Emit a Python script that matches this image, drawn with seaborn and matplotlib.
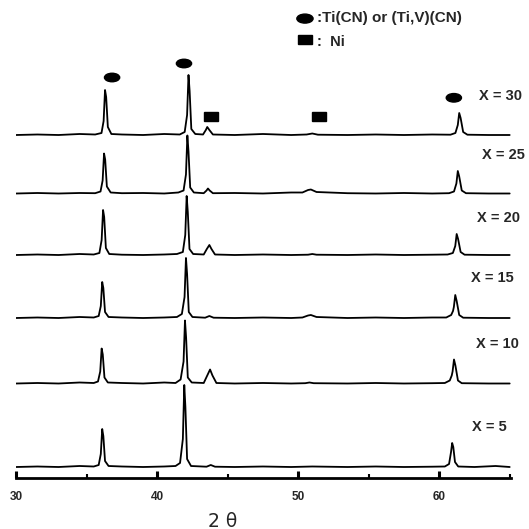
import pandas as pd
import matplotlib
matplotlib.use("Agg")
import matplotlib.pyplot as plt
from matplotlib.patches import Ellipse, Rectangle
import seaborn as sns

# =============
# 1. DATOS (leidos del difractograma)
# =============
muestras = ['X = 30', 'X = 25', 'X = 20', 'X = 15', 'X = 10', 'X = 5']

tt_x30 = [30.0, 31.5, 33.0, 34.5, 35.6, 36.05, 36.2, 36.3, 36.38, 36.5, 36.75, 37.5, 39.0, 40.5, 41.6,
          41.95, 42.12, 42.22, 42.3, 42.42, 42.7, 43.25, 43.45, 43.55, 43.7, 43.95, 45.5, 47.5, 49.5,
          50.6, 51.0, 51.4, 53.5, 55.5, 57.5, 59.5, 60.8, 61.15, 61.32, 61.42, 61.52, 61.7, 62.0, 63.5, 65.0]
i_x30 = [0, 0.5, 0, 1, 0.5, 2, 14, 45, 38, 8, 1, 0.5, 0, 1, 0.5,
         3, 20, 60, 44, 6, 1, 0.5, 5, 8, 5, 0.5, 0, 1, 0,
         0.5, 1.5, 0.3, 0, 0.5, 0, 0.5, 0.3, 2, 10, 22, 17, 3, 0.3, 0, 0]

tt_x25 = [30.0, 31.5, 33.0, 34.5, 35.6, 35.98, 36.13, 36.23, 36.31, 36.43, 36.7, 37.5, 39.0, 40.5, 41.5,
          41.87, 42.04, 42.14, 42.22, 42.34, 42.6, 43.3, 43.5, 43.6, 43.72, 43.95, 45.5, 47.5, 49.5,
          50.3, 50.7, 50.9, 51.3, 53.5, 55.5, 57.5, 59.5, 60.7, 61.05, 61.22, 61.32, 61.42, 61.6, 61.9, 63.5, 65.0]
i_x25 = [0, 0.5, 0, 0.5, 0.3, 2, 13, 40, 34, 7, 1, 0.3, 0.5, 0, 1,
         3, 19, 58, 42, 6, 1, 0.3, 3, 5, 3, 0.3, 0.5, 0, 1,
         1, 3.5, 4, 1.5, 0.3, 0, 0.5, 0, 0.3, 2, 10, 22.5, 17, 3, 0.3, 0, 0]

tt_x20 = [30.0, 31.5, 33.0, 34.5, 35.5, 35.9, 36.06, 36.16, 36.24, 36.36, 36.6, 37.5, 39.0, 40.5, 41.4,
          41.82, 41.99, 42.09, 42.17, 42.29, 42.55, 43.3, 43.52, 43.7, 43.85, 44.1, 45.5, 47.5, 49.5,
          50.7, 51.0, 51.3, 53.5, 55.5, 57.5, 59.5, 60.6, 60.97, 61.14, 61.24, 61.34, 61.52, 61.8, 63.5, 65.0]
i_x20 = [0, 0.5, 0, 1, 0.5, 2, 15, 45, 38, 7, 1, 0.3, 0, 0.5, 1,
         3, 20, 59, 43, 6, 1, 0.5, 6, 10, 6, 0.5, 0, 0.5, 0,
         0.3, 1, 0.3, 0, 0.5, 0, 0.3, 0.5, 2, 9, 21, 16, 3, 0.3, 0, 0]

tt_x15 = [30.0, 31.5, 33.0, 34.5, 35.5, 35.85, 36.0, 36.1, 36.18, 36.3, 36.55, 37.5, 39.0, 40.5, 41.4,
          41.75, 41.94, 42.04, 42.12, 42.24, 42.5, 43.4, 43.7, 44.0, 45.5, 47.5, 49.5,
          50.3, 50.7, 50.9, 51.3, 53.5, 55.5, 57.5, 59.5, 60.5, 60.85, 60.98, 61.04, 61.14, 61.24, 61.42, 61.7, 63.5, 65.0]
i_x15 = [0, 0.5, 0, 1, 0.5, 2, 12, 36, 30, 6, 1, 0.5, 0, 0.5, 1,
         4, 21, 60, 44, 6, 1, 0.3, 2, 0.3, 0, 0.5, 0,
         0.5, 2.5, 3, 1, 0, 0.5, 0, 0.5, 0.5, 3, 7, 11, 23, 17, 3, 0.3, 0, 0]

tt_x10 = [30.0, 31.5, 33.0, 34.5, 35.5, 35.8, 35.96, 36.06, 36.14, 36.26, 36.5, 37.5, 39.0, 40.5, 41.3,
          41.66, 41.87, 41.97, 42.05, 42.17, 42.45, 43.3, 43.55, 43.75, 43.92, 44.2, 45.5, 47.5, 49.5,
          50.5, 50.8, 51.1, 53.5, 55.5, 57.5, 59.5, 60.4, 60.75, 60.89, 60.95, 61.05, 61.15, 61.33, 61.6, 63.5, 65.0]
i_x10 = [0, 0.5, 0, 1, 0.5, 2, 12, 35, 29, 6, 1, 0.5, 0, 1, 0.5,
         4, 22, 63, 46, 6, 1, 0.5, 8, 14, 8, 0.5, 0, 0.5, 0,
         0.3, 1, 0.3, 0, 0.5, 0, 0.3, 0.5, 3, 8, 12, 24, 18, 3, 0.3, 0, 0]

tt_x5 = [30.0, 31.5, 33.0, 34.5, 35.5, 35.85, 36.0, 36.1, 36.18, 36.3, 36.55, 37.5, 39.0, 40.5, 41.3,
         41.62, 41.82, 41.92, 42.0, 42.12, 42.4, 43.5, 43.8, 44.1, 45.5, 47.5, 49.5,
         51.0, 53.5, 55.5, 57.5, 59.5, 60.4, 60.7, 60.84, 60.92, 61.0, 61.12, 61.35, 62.5, 64.0, 65.0]
i_x5 = [0, 0.5, 0, 1, 0.5, 2, 13, 38, 31, 6, 1, 0.5, 0, 0.5, 1,
        4, 28, 82, 60, 8, 1, 0.3, 2, 0.3, 0, 0.5, 0,
        0.5, 0, 0.5, 0, 0.3, 0.5, 3, 15, 24, 20, 5, 0.5, 0, 1, 0]

dos_theta = [tt_x30, tt_x25, tt_x20, tt_x15, tt_x10, tt_x5]
intensidad = [i_x30, i_x25, i_x20, i_x15, i_x10, i_x5]

# desplazamiento vertical de cada curva
offsets = [343, 284.5, 223, 160, 94.5, 11]
pos_etiqueta = [(62.85, 382), (63.05, 323), (62.7, 260.5), (62.25, 200), (62.6, 134), (62.3, 51)]

# marcadores de fase: (2theta, y)
picos_ticn = [(36.8, 400.5), (41.9, 414.5), (61.04, 380.2)]
picos_ni = [(43.8, 361.6), (51.46, 361.6)]

# ==========
# 2. GRAFICO
# ==========
sns.set_theme(style='white')
plt.rcParams['font.family'] = ['Liberation Sans', 'DejaVu Sans']

fig = plt.figure(figsize=(5.29, 5.29), dpi=100)
ax = fig.add_axes([16.2 / 529, 51 / 529, 494.9 / 529, 478 / 529])

for nombre, tt, inten, off in zip(muestras, dos_theta, intensidad, offsets):
    df = pd.DataFrame({'2theta': tt, 'I': [v + off for v in inten]})
    sns.lineplot(data=df, x='2theta', y='I', color='black', lw=1.3, ax=ax, sort=False)

for nombre, (xt, yt) in zip(muestras, pos_etiqueta):
    ax.text(xt, yt, nombre, fontsize=10.5, fontweight='bold', va='center', ha='left', clip_on=False)

for (xc, yc) in picos_ticn:
    ax.add_patch(Ellipse((xc, yc), 1.08, 8.5, color='black'))
for (xc, yc) in picos_ni:
    ax.add_patch(Rectangle((xc - 0.48, yc - 4.2), 0.96, 8.4, color='black'))

# leyenda
ax.add_patch(Ellipse((50.48, 459.4), 1.15, 9, color='black', clip_on=False))
ax.text(51.3, 460.5, ':Ti(CN) or (Ti,V)(CN)', fontsize=11, fontweight='bold', va='center', ha='left', clip_on=False)
ax.add_patch(Rectangle((50.0, 434.2), 0.96, 8.4, color='black', clip_on=False))
ax.text(51.3, 436, ':  Ni', fontsize=10.5, fontweight='bold', va='center', ha='left', clip_on=False)

ax.set_xlim(30, 65.1)
ax.set_ylim(0, 478)
ax.set_xticks([30, 40, 50, 60])
ax.set_xticklabels(['30', '40', '50', '60'], fontsize=8.5, fontweight='bold')
ax.set_xticks([35, 45, 55, 65.05], minor=True)
ax.set_yticks([])
ax.tick_params(axis='x', which='major', direction='in', length=5, width=2.2, pad=9, color='black', bottom=True)
ax.tick_params(axis='x', which='minor', direction='in', length=3, width=1.5, color='black', bottom=True)
for lado in ['left', 'right', 'top']:
    ax.spines[lado].set_visible(False)
ax.spines['bottom'].set_linewidth(2)
ax.spines['bottom'].set_color('black')
ax.set_xlabel('')
ax.set_ylabel('')
ax.text(0.418, -0.09, '2 θ', transform=ax.transAxes, fontsize=13.5, ha='center', va='center',
        family=['DejaVu Sans'])

fig.savefig('out.png', dpi=100)
